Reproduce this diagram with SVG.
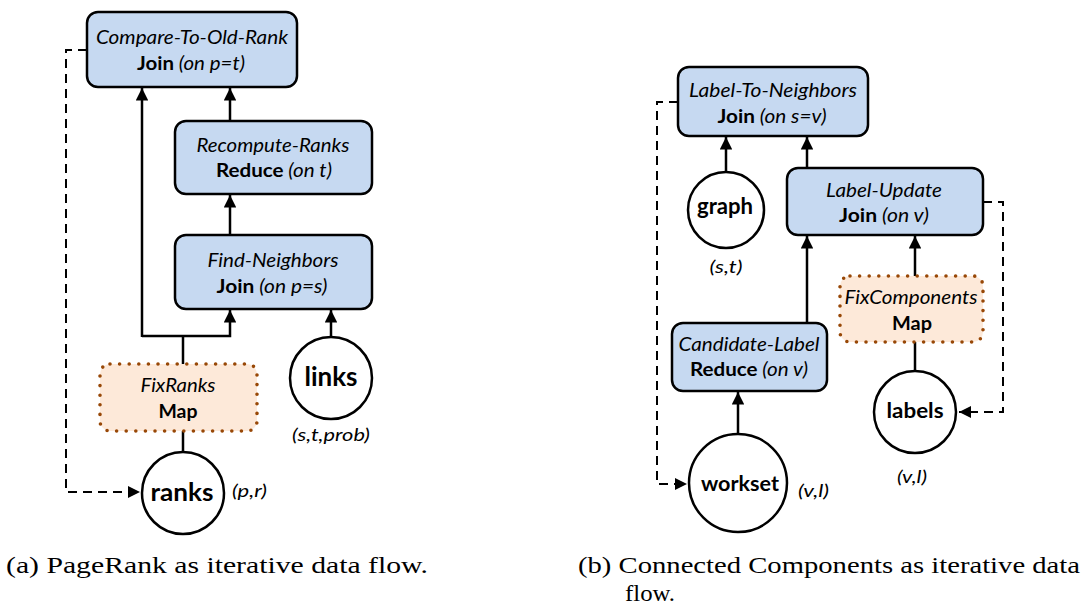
<svg xmlns="http://www.w3.org/2000/svg" width="1082" height="606" viewBox="0 0 1082 606">
  <style>
    .op { fill: #c6d9f1; stroke: #000; stroke-width: 2.5; }
    .map { fill: #fde9d9; stroke: #984807; stroke-width: 3.6; stroke-dasharray: 0 9.6; stroke-linecap: round; }
    .ds { fill: #fff; stroke: #000; stroke-width: 2.5; }
    .edge { fill: none; stroke: #000; stroke-width: 2.5; }
    .loop { fill: none; stroke: #000; stroke-width: 2; stroke-dasharray: 9 6; }
    .t { font-family: Lato, "Open Sans", "Liberation Sans", sans-serif; font-size: 19px; text-anchor: middle; fill: #000; }
    .it { font-style: italic; }
    .b { font-weight: bold; }
    .ds-t { font-family: Lato, "Open Sans", "Liberation Sans", sans-serif; font-weight: bold; text-anchor: middle; }
    .schema { font-family: Lato, "Open Sans", "Liberation Sans", sans-serif; font-style: italic; font-size: 18px; }
    .cap { font-family: "Liberation Serif", "DejaVu Serif", serif; font-size: 24px; }
  </style>
  <defs>
    <marker id="arrow" viewBox="0 0 10 10" refX="10" refY="5" markerWidth="5" markerHeight="5" orient="auto" markerUnits="strokeWidth">
      <path d="M0,0 L10,5 L0,10 z" fill="#000"/>
    </marker>
    <marker id="arrow-s" viewBox="0 0 10 10" refX="10" refY="5" markerWidth="6" markerHeight="6" orient="auto" markerUnits="strokeWidth">
      <path d="M0,0 L10,5 L0,10 z" fill="#000"/>
    </marker>
  </defs>

  <!-- connectors -->
  <g id="connectors">
    <!-- PageRank -->
    <path class="edge" d="M230,235 L230,195" marker-end="url(#arrow)"/>
    <path class="edge" d="M230,121 L230,88" marker-end="url(#arrow)"/>
    <path class="edge" d="M183,364 L183,336"/>
    <path class="edge" d="M142,336 L230,336 L230,310" marker-end="url(#arrow)"/>
    <path class="edge" d="M142,337 L142,88" marker-end="url(#arrow)"/>
    <path class="edge" d="M331,337 L331,310" marker-end="url(#arrow)"/>
    <path class="edge" d="M183,431 L183,452"/>
    <path class="loop" d="M87,50 L66,50 L66,492 L140,492" marker-end="url(#arrow-s)"/>
    <!-- Connected Components -->
    <path class="edge" d="M726,172 L726,137" marker-end="url(#arrow)"/>
    <path class="edge" d="M807,168 L807,137" marker-end="url(#arrow)"/>
    <path class="edge" d="M807,323 L807,236" marker-end="url(#arrow)"/>
    <path class="edge" d="M915,276 L915,236" marker-end="url(#arrow)"/>
    <path class="edge" d="M915,342 L915,371"/>
    <path class="edge" d="M738,434 L738,392" marker-end="url(#arrow)"/>
    <path class="loop" d="M678,102 L657,102 L657,484 L687,484" marker-end="url(#arrow-s)"/>
    <path class="loop" d="M983,202 L1003,202 L1003,412 L959,412" marker-end="url(#arrow-s)"/>
  </g>

  <!-- PageRank nodes -->
  <g id="compare-to-old-rank">
    <rect class="op" x="87" y="12" width="210" height="75" rx="11"/>
    <text class="t it" x="192" y="44" textLength="192" lengthAdjust="spacingAndGlyphs">Compare-To-Old-Rank</text>
    <text class="t" x="191" y="70" textLength="108" lengthAdjust="spacingAndGlyphs"><tspan class="b">Join</tspan><tspan class="it"> (on p=t)</tspan></text>
  </g>
  <g id="recompute-ranks">
    <rect class="op" x="175" y="121" width="197" height="73" rx="11"/>
    <text class="t it" x="273" y="152" textLength="153" lengthAdjust="spacingAndGlyphs">Recompute-Ranks</text>
    <text class="t" x="274" y="177" textLength="116" lengthAdjust="spacingAndGlyphs"><tspan class="b">Reduce</tspan><tspan class="it"> (on t)</tspan></text>
  </g>
  <g id="find-neighbors">
    <rect class="op" x="175" y="235" width="197" height="74" rx="11"/>
    <text class="t it" x="273" y="267" textLength="131" lengthAdjust="spacingAndGlyphs">Find-Neighbors</text>
    <text class="t" x="272" y="293" textLength="111" lengthAdjust="spacingAndGlyphs"><tspan class="b">Join</tspan><tspan class="it"> (on p=s)</tspan></text>
  </g>
  <g id="fixranks">
    <rect class="map" x="100" y="364" width="157" height="67" rx="10"/>
    <text class="t it" x="178" y="392" textLength="75" lengthAdjust="spacingAndGlyphs">FixRanks</text>
    <text class="t b" x="178" y="418" textLength="39" lengthAdjust="spacingAndGlyphs">Map</text>
  </g>
  <g id="links">
    <circle class="ds" cx="331" cy="378" r="41"/>
    <text class="ds-t" x="331" y="386" font-size="27" textLength="53" lengthAdjust="spacingAndGlyphs">links</text>
    <text class="schema" x="331" y="441" text-anchor="middle" textLength="78" lengthAdjust="spacingAndGlyphs">(s,t,prob)</text>
  </g>
  <g id="ranks">
    <circle class="ds" cx="183" cy="493" r="41"/>
    <text class="ds-t" x="182" y="501" font-size="25" textLength="63" lengthAdjust="spacingAndGlyphs">ranks</text>
    <text class="schema" x="232" y="497" textLength="35" lengthAdjust="spacingAndGlyphs">(p,r)</text>
  </g>

  <!-- Connected Components nodes -->
  <g id="label-to-neighbors">
    <rect class="op" x="678" y="67" width="190" height="69" rx="11"/>
    <text class="t it" x="773" y="97" textLength="168" lengthAdjust="spacingAndGlyphs">Label-To-Neighbors</text>
    <text class="t" x="772" y="123" textLength="109" lengthAdjust="spacingAndGlyphs"><tspan class="b">Join</tspan><tspan class="it"> (on s=v)</tspan></text>
  </g>
  <g id="graph">
    <circle class="ds" cx="726" cy="210" r="38"/>
    <text class="ds-t" x="725" y="214" font-size="22" textLength="56" lengthAdjust="spacingAndGlyphs">graph</text>
    <text class="schema" x="726" y="273" text-anchor="middle" textLength="33" lengthAdjust="spacingAndGlyphs">(s,t)</text>
  </g>
  <g id="label-update">
    <rect class="op" x="787" y="168" width="196" height="67" rx="11"/>
    <text class="t it" x="884" y="197" textLength="116" lengthAdjust="spacingAndGlyphs">Label-Update</text>
    <text class="t" x="884" y="222" textLength="90" lengthAdjust="spacingAndGlyphs"><tspan class="b">Join</tspan><tspan class="it"> (on v)</tspan></text>
  </g>
  <g id="fixcomponents">
    <rect class="map" x="840" y="276" width="143" height="66" rx="10"/>
    <text class="t it" x="911" y="304" textLength="133" lengthAdjust="spacingAndGlyphs">FixComponents</text>
    <text class="t b" x="912" y="330" textLength="40" lengthAdjust="spacingAndGlyphs">Map</text>
  </g>
  <g id="candidate-label">
    <rect class="op" x="672" y="323" width="155" height="68" rx="11"/>
    <text class="t it" x="749" y="351" textLength="141" lengthAdjust="spacingAndGlyphs">Candidate-Label</text>
    <text class="t" x="749" y="376" textLength="118" lengthAdjust="spacingAndGlyphs"><tspan class="b">Reduce</tspan><tspan class="it"> (on v)</tspan></text>
  </g>
  <g id="labels">
    <circle class="ds" cx="915" cy="412" r="41"/>
    <text class="ds-t" x="915" y="418" font-size="21" textLength="57" lengthAdjust="spacingAndGlyphs">labels</text>
    <text class="schema" x="912" y="483" text-anchor="middle" textLength="30" lengthAdjust="spacingAndGlyphs">(v,l)</text>
  </g>
  <g id="workset">
    <circle class="ds" cx="738" cy="483" r="49"/>
    <text class="ds-t" x="740" y="491" font-size="21" textLength="78" lengthAdjust="spacingAndGlyphs">workset</text>
    <text class="schema" x="798" y="497" textLength="31" lengthAdjust="spacingAndGlyphs">(v,l)</text>
  </g>

  <!-- captions -->
  <text class="cap" x="6" y="573" textLength="422" lengthAdjust="spacingAndGlyphs">(a) PageRank as iterative data flow.</text>
  <text class="cap" x="578" y="573" textLength="502" lengthAdjust="spacingAndGlyphs">(b) Connected Components as iterative data</text>
  <text class="cap" x="625" y="601" textLength="50" lengthAdjust="spacingAndGlyphs">flow.</text>
</svg>
